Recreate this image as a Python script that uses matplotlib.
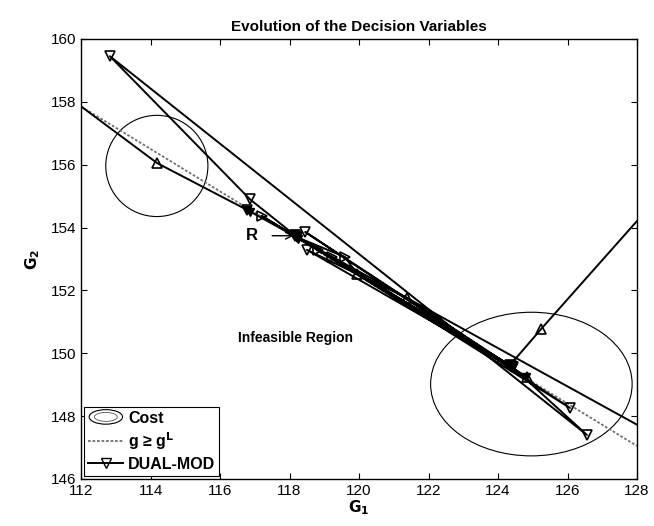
import matplotlib
matplotlib.use("Agg")
import matplotlib.pyplot as plt
from matplotlib.patches import Ellipse
from matplotlib.legend_handler import HandlerBase
from matplotlib.lines import Line2D
import numpy as np

plt.rcParams['font.family'] = ['Liberation Sans', 'DejaVu Sans']

# ---- data ----
path_g1 = [110.0, 114.19, 116.78, 131.0, 130.0, 125.24, 124.35, 126.56, 112.83, 116.86,
           118.16, 126.07, 118.45, 124.83, 117.20, 124.40, 118.50, 121.38, 124.35,
           118.82, 119.22, 124.38, 118.20, 119.60, 119.94, 124.42, 118.15, 124.36]
path_g2 = [159.5, 156.05, 154.56, 145.9, 156.7, 150.77, 149.63, 147.40, 159.45, 154.90,
           153.75, 148.26, 153.86, 149.24, 154.37, 149.55, 153.29, 151.76, 149.60,
           153.29, 153.06, 149.58, 153.70, 153.06, 152.52, 149.57, 153.74, 149.60]
path_markers = ['^', '^', 'v', 'v', 'v', '^', 'v', 'v', 'v', 'v',
                'v', 'v', 'v', '^', '>', 'v', 'v', '^', 'v',
                '>', '>', 'v', 'v', '>', '^', 'v', 'v', 'v']

cluster_g1 = [116.78, 116.85, 118.10, 118.20, 118.25, 124.35, 124.42, 124.80]
cluster_g2 = [154.56, 154.50, 153.78, 153.70, 153.62, 149.63, 149.55, 149.24]

feas_g1 = [112.0, 128.0]
feas_g2 = [157.85, 147.05]

cost_centers = [(114.18, 155.96), (124.96, 149.02)]
cost_widths = [2.94, 5.80]
cost_heights = [3.22, 4.57]

fig = plt.figure(figsize=(6.54, 5.26), dpi=100)
ax = fig.add_axes([0.124, 0.0894, 0.850, 0.8365])

# cost contours
for (cx, cy), w, h in zip(cost_centers, cost_widths, cost_heights):
    ax.add_patch(Ellipse((cx, cy), w, h, fill=False, ec='black', lw=0.8))

# feasibility boundary
ax.plot(feas_g1, feas_g2, linestyle=(0, (1.5, 1.0)), color='#707070', lw=1.3)

# trajectory
ax.plot(path_g1, path_g2, color='black', lw=1.4)
for x, y, m in zip(path_g1, path_g2, path_markers):
    ax.plot([x], [y], marker=m, ms=7, mfc='none', mec='black', mew=1.2, color='black')
ax.plot(cluster_g1, cluster_g2, linestyle='none', marker='v', ms=6, mfc='black', mec='black')

ax.set_xlim(112, 128)
ax.set_ylim(146, 160)
ax.set_xticks(np.arange(112, 129, 2))
ax.set_yticks(np.arange(146, 161, 2))
ax.tick_params(direction='in', top=True, right=True, labelsize=11, length=4, width=0.8)
for s in ax.spines.values():
    s.set_linewidth(1.0)

ax.set_title('Evolution of the Decision Variables', fontsize=11, fontweight='bold', pad=6)
ax.set_xlabel(r'$\mathbf{G_1}$', fontsize=11, labelpad=0)
ax.set_ylabel(r'$\mathbf{G_2}$', fontsize=11, labelpad=6)

ax.text(118.16, 150.49, 'Infeasible Region', fontsize=10, fontweight='bold', ha='center', va='center')
ax.annotate('R', xy=(118.2, 153.74), xytext=(117.1, 153.74), fontsize=12, fontweight='bold',
            ha='right', va='center',
            arrowprops=dict(arrowstyle='->', color='black', lw=1.0, shrinkA=8, shrinkB=2))


class HandlerCost(HandlerBase):
    def create_artists(self, legend, orig_handle, xdescent, ydescent, width, height, fontsize, trans):
        cx = width / 2 - xdescent
        cy = height / 2 - ydescent
        e1 = Ellipse((cx, cy), width * 0.95, height * 1.3, fill=False, ec='black', lw=0.8, transform=trans)
        e2 = Ellipse((cx, cy), width * 0.65, height * 0.8, fill=False, ec='#555555', lw=0.6, transform=trans)
        return [e1, e2]


cost_handle = Ellipse((0, 0), 1, 1)
feas_handle = Line2D([], [], linestyle=(0, (1.5, 1.0)), color='#707070', lw=1.3)
dual_handle = Line2D([], [], color='black', lw=1.4, marker='v', ms=7, mfc='none', mec='black')
leg = ax.legend([cost_handle, feas_handle, dual_handle], ['Cost', r'g ≥ g$^\mathbf{L}$', 'DUAL-MOD'],
                handler_map={Ellipse: HandlerCost()}, loc='lower left', fancybox=False,
                edgecolor='black', framealpha=1, prop={'weight': 'bold', 'size': 11.5},
                handlelength=2.2, borderpad=0.25, labelspacing=0.3, handletextpad=0.3,
                borderaxespad=0.2)
leg.get_frame().set_linewidth(0.8)

fig.savefig('out.png', dpi=100)
